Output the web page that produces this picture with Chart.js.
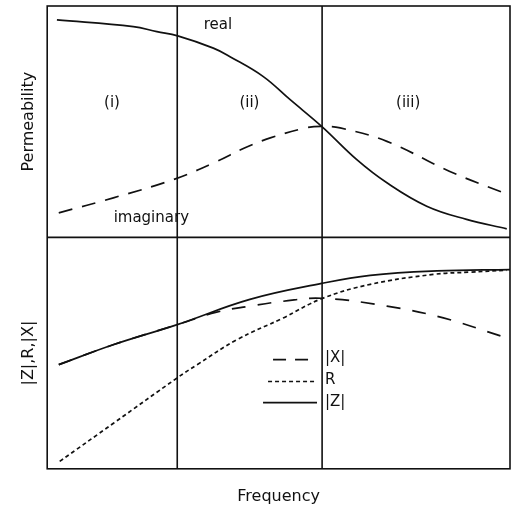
<!DOCTYPE html>
<html lang="en">
<head>
  <meta charset="UTF-8">
  <title>Permeability and impedance vs frequency</title>
  <script src="https://cdn.jsdelivr.net/npm/chart.js@4.4.0/dist/chart.umd.min.js"></script>
  <style>
    html, body { margin: 0; padding: 0; background: #fff; }
    #wrap { width: 515px; height: 510px; }
  </style>
</head>
<body>
  <div id="wrap"><canvas id="chart" width="515" height="510"></canvas></div>

  <script>
    // frequency axis runs 0..100 (arbitrary units), region borders
    const regionBorders = [28.1, 59.4];
    const regionLabels = ['(i)', '(ii)', '(iii)'];

    // top panel: permeability
    const realX = [2.1, 18.6, 23.7, 28.2, 35.9, 39.5, 46.7, 52.5, 59.3, 66.9, 73.4, 82.0, 90.6, 99.3];
    const realY = [94.0, 91.1, 88.9, 87.1, 81.8, 78.1, 69.5, 59.5, 48.0, 33.6, 23.6, 13.5, 7.8, 3.7];
    const imagX = [2.5, 14.3, 27.7, 36.7, 42.5, 48.2, 56.1, 59.3, 63.3, 73.4, 87.0, 99.6];
    const imagY = [10.6, 17.1, 25.3, 32.9, 38.5, 43.0, 47.4, 48.0, 47.3, 41.5, 28.5, 18.5];

    // bottom panel: |Z|, R, |X|
    const zX = [2.5, 14.4, 28.1, 43.8, 59.3, 69.8, 84.2, 100];
    const zY = [45.0, 53.7, 62.3, 73.2, 80.1, 83.6, 85.5, 86.1];
    const rX = [2.7, 14.4, 28.1, 32.4, 41.0, 51.0, 59.3, 69.8, 83.4, 91.4, 99.3];
    const rY = [3.2, 19.8, 39.3, 45.0, 55.8, 65.2, 73.5, 79.7, 84.0, 85.0, 85.8];
    const xX = [2.5, 14.4, 28.1, 36.6, 43.8, 51.0, 59.3, 73.4, 85.6, 98.6];
    const xY = [45.0, 53.7, 62.3, 67.7, 70.3, 72.4, 73.7, 70.3, 65.2, 57.0];

    const legendItems = ['|X|', 'R', '|Z|'];
    const legendDash = [[13, 9], [4, 3], []];

    const pts = (xs, ys) => xs.map((x, i) => ({ x: x, y: ys[i] }));
    const FONT = '"DejaVu Sans", sans-serif';

    function lineSet(label, xs, ys, axis, dash) {
      return {
        label: label,
        data: pts(xs, ys),
        yAxisID: axis,
        borderColor: '#111',
        borderWidth: 1.7,
        borderDash: dash,
        pointRadius: 0,
        fill: false,
        tension: 0.4
      };
    }

    const decor = {
      id: 'decor',
      afterDatasetsDraw(chart) {
        const ctx = chart.ctx;
        const a = chart.chartArea;
        const sx = chart.scales.x, top = chart.scales.yTop, bot = chart.scales.yBot;
        ctx.save();
        ctx.strokeStyle = '#111';
        ctx.lineWidth = 1.6;
        ctx.strokeRect(a.left, a.top, a.right - a.left, a.bottom - a.top);
        ctx.beginPath();
        ctx.moveTo(a.left, bot.top);
        ctx.lineTo(a.right, bot.top);
        regionBorders.forEach(b => {
          const px = sx.getPixelForValue(b);
          ctx.moveTo(px, a.top);
          ctx.lineTo(px, a.bottom);
        });
        ctx.stroke();

        ctx.fillStyle = '#111';
        ctx.font = '15px ' + FONT;
        ctx.textAlign = 'center';
        ctx.textBaseline = 'middle';
        const centers = [14.0, 43.7, 78.0];
        regionLabels.forEach((t, i) => {
          ctx.fillText(t, sx.getPixelForValue(centers[i]), top.getPixelForValue(58));
        });
        ctx.fillText('real', sx.getPixelForValue(36.9), top.getPixelForValue(91.8));
        ctx.fillText('imaginary', sx.getPixelForValue(22.5), top.getPixelForValue(8.5));

        // legend inside lower panel
        const lx0 = sx.getPixelForValue(48.8), lx1 = sx.getPixelForValue(58.3);
        const ly = [47.2, 37.7, 28.6];
        legendItems.forEach((t, i) => {
          const py = bot.getPixelForValue(ly[i]);
          ctx.setLineDash(legendDash[i]);
          ctx.beginPath();
          ctx.moveTo(i === 2 ? lx0 - 10 : (i === 1 ? lx0 - 5 : lx0), py);
          ctx.lineTo(lx1, py);
          ctx.stroke();
          ctx.setLineDash([]);
          ctx.textAlign = 'left';
          ctx.fillText(t, lx1 + 8, py - 1);
        });
        ctx.restore();
      }
    };

    new Chart(document.getElementById('chart'), {
      type: 'line',
      data: {
        datasets: [
          lineSet('real', realX, realY, 'yTop', []),
          lineSet('imaginary', imagX, imagY, 'yTop', [14, 10]),
          lineSet('|X|', xX, xY, 'yBot', [14, 12]),
          lineSet('R', rX, rY, 'yBot', [4, 3]),
          lineSet('|Z|', zX, zY, 'yBot', [])
        ]
      },
      options: {
        responsive: false,
        animation: false,
        layout: { padding: { left: 19, right: 5, top: 6, bottom: 4 } },
        plugins: { legend: { display: false }, tooltip: { enabled: false } },
        scales: {
          x: {
            type: 'linear', min: 0, max: 100,
            grid: { display: false },
            border: { display: false },
            ticks: { display: false },
            title: { display: true, text: 'Frequency', color: '#111', font: { family: FONT, size: 16 }, padding: { top: 10, bottom: 0 } }
          },
          yBot: {
            type: 'linear', min: 0, max: 100,
            position: 'left', stack: 'panels', stackWeight: 1, offset: false,
            grid: { display: false }, border: { display: false },
            ticks: { display: false },
            title: { display: true, text: '|Z|,R,|X|', color: '#111', font: { family: FONT, size: 16 }, padding: { top: 0, bottom: 1 } }
          },
          yTop: {
            type: 'linear', min: 0, max: 100,
            position: 'left', stack: 'panels', stackWeight: 1, offset: false,
            grid: { display: false }, border: { display: false },
            ticks: { display: false },
            title: { display: true, text: 'Permeability', color: '#111', font: { family: FONT, size: 16 }, padding: { top: 0, bottom: 1 } }
          }
        }
      },
      plugins: [decor]
    });
  </script>
</body>
</html>
